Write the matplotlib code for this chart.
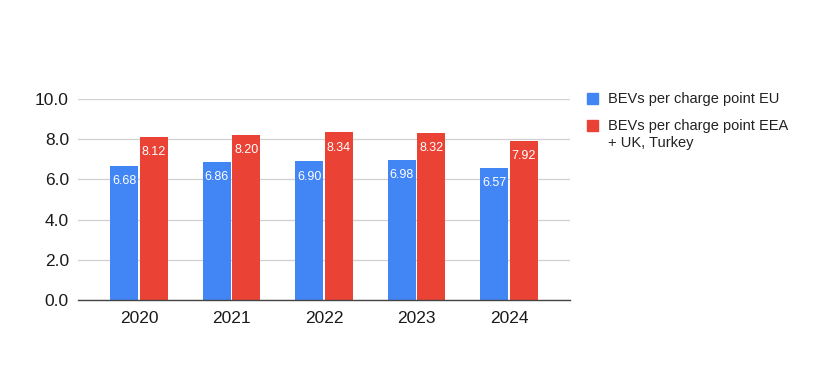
import matplotlib.pyplot as plt
from matplotlib.patches import Rectangle
import numpy as np

plt.rcParams['font.family'] = ['Liberation Sans', 'DejaVu Sans']

years = ["2020", "2021", "2022", "2023", "2024"]
eu = [6.68, 6.86, 6.90, 6.98, 6.57]
eea = [8.12, 8.20, 8.34, 8.32, 7.92]
series_names = ["BEVs per charge point EU", "BEVs per charge point EEA\n+ UK, Turkey"]
colors = ["#4285F4", "#EA4335"]
yticks = [0, 2, 4, 6, 8, 10]

W, H = 819, 371
fig = plt.figure(figsize=(W/100, H/100), dpi=100)
ax = fig.add_axes([78/W, 71/H, 492/W, 201/H])

x = np.arange(len(years))
w = 0.30
gap = 0.009
b1 = ax.bar(x - w/2 - gap, eu, w, color=colors[0], zorder=3)
b2 = ax.bar(x + w/2 + gap, eea, w, color=colors[1], zorder=3)

for bars, vals in [(b1, eu), (b2, eea)]:
    for r, v in zip(bars, vals):
        ax.annotate("%.2f" % v, (r.get_x() + r.get_width()/2, v),
                    xytext=(0, -11), textcoords="offset points",
                    ha="center", va="center", color="white", fontsize=9, zorder=4)

ax.set_xlim(-0.66, 4.66)
ax.set_ylim(0, 10)
ax.set_yticks(yticks)
ax.set_yticklabels(["%.1f" % t for t in yticks])
ax.set_xticks(x)
ax.set_xticklabels(years)
ax.tick_params(length=0, labelsize=12.5, colors="#1a1a1a")
ax.tick_params(axis="x", pad=8)
ax.tick_params(axis="y", pad=6.5)
ax.grid(axis="y", color="#d0d0d0", linewidth=0.9, zorder=0)
for s in ["top", "right", "left"]:
    ax.spines[s].set_visible(False)
ax.spines["bottom"].set_color("#444444")
ax.spines["bottom"].set_linewidth(1.0)
ax.spines["bottom"].set_zorder(5)

# legend drawn by hand so the square sits on the first text line
leg_rows = [98.5, 125.5]
for name, c, yc in zip(series_names, colors, leg_rows):
    fig.patches.append(Rectangle((587/W, 1 - (yc + 5.5)/H), 11/W, 11/H,
                                 color=c, transform=fig.transFigure, figure=fig))
    fig.text(608/W, 1 - (yc - 7)/H, name, ha="left", va="top", fontsize=10.5,
             color="#222222", linespacing=1.35)

plt.savefig("out.png", dpi=100)
